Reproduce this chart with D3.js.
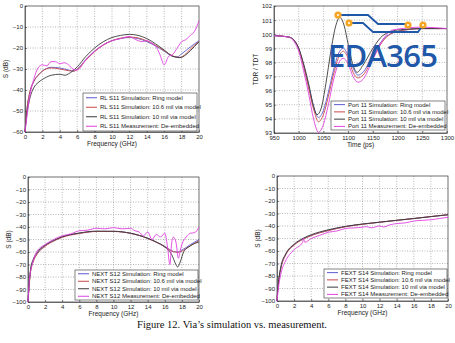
<!DOCTYPE html>
<html>
<head>
<meta charset="utf-8">
<title>Via simulation vs measurement</title>
<script src="https://cdn.jsdelivr.net/npm/d3@7"></script>
<style>
  body { margin: 0; background: #fff; }
  svg { display: block; font-family: "Liberation Sans", Arial, sans-serif; }
  .grid line { stroke: #999; stroke-dasharray: 1,1.5; stroke-width: 0.7; }
  .axis text { font-size: 6px; fill: #222; }
  .axis path, .axis line { stroke: #333; stroke-width: 0.6; }
</style>
</head>
<body>
<svg id="fig" width="455" height="343"></svg>
<script>
// ---- data ----
const freqTicks = [0, 2, 4, 6, 8, 10, 12, 14, 16, 18, 20];
const timeTicks = [950, 1000, 1050, 1100, 1150, 1200, 1250, 1300];

// S11 return loss
const s11Ring = [[0,-60],[0.2,-50],[0.5,-42],[1,-36],[1.5,-33],[2,-31],[3,-29.2],[4,-29.5],[5,-30.5],[5.6,-31],[6,-30],[7,-25.5],[8,-21.5],[9,-18.5],[10,-16.5],[11,-15.5],[12,-15],[13,-15.5],[14,-17],[15,-19],[16,-21.5],[17,-24],[17.5,-24.2],[18,-22.8],[19,-19.5],[20,-16.5]];
const s11Ring106 = [[0,-60],[0.2,-50],[0.5,-42],[1,-36],[1.5,-33],[2,-31],[3,-29.5],[4,-30],[5,-30.8],[5.6,-31],[6,-30.2],[7,-25.8],[8,-21.8],[9,-18.6],[10,-16.5],[11,-15.3],[12,-14.8],[13,-15.2],[14,-16.6],[15,-18.7],[16,-21.3],[17,-23.8],[17.7,-24.5],[18.3,-23.5],[19,-20.5],[20,-17]];
const s11Via10 = [[0,-60],[0.2,-52],[0.5,-45],[1,-39],[1.5,-36.5],[2,-35],[3,-33],[4,-32.5],[4.6,-33],[5,-32.3],[6,-29],[7,-24],[8,-20],[9,-17],[10,-15],[11,-14],[12,-13.5],[13,-14],[14,-15.5],[15,-18],[16,-21],[17,-24],[17.8,-24.6],[18.5,-23.2],[19,-21.3],[20,-17]];
const s11Meas = [[0,-60],[0.15,-55],[0.3,-50],[0.6,-42],[1,-35],[1.5,-29.5],[2,-28],[2.5,-28.5],[3,-26.5],[3.5,-26.5],[4,-27.5],[4.5,-27],[5,-28],[5.5,-30],[6,-30.5],[7,-25.5],[8,-21.5],[9,-18.5],[10,-16.5],[11,-15.5],[12,-14.5],[12.5,-15.5],[13,-16.5],[13.5,-17],[14,-16.5],[14.5,-17.5],[15,-19],[15.5,-23],[16,-28],[16.5,-24],[17,-23],[17.5,-20],[18,-17],[18.5,-16],[19,-14],[19.5,-12],[20,-7]];

// TDR
const tdrRing = [[950,99.9],[980,99.8],[990,99.6],[1000,99],[1010,97.8],[1020,96.4],[1030,94.9],[1040,94.1],[1050,94.6],[1060,95.9],[1070,97.4],[1080,98.6],[1090,99],[1100,98.5],[1110,97.6],[1120,97.1],[1130,97.3],[1150,98.5],[1170,99.6],[1200,100.2],[1250,100.4],[1300,100.4]];
const tdrRing106 = [[950,99.9],[980,99.8],[990,99.6],[1000,99],[1010,97.7],[1020,96.2],[1030,94.7],[1040,93.8],[1050,94.3],[1060,95.6],[1070,97.1],[1080,98.3],[1090,98.8],[1100,98.3],[1110,97.3],[1120,96.9],[1130,97.1],[1150,98.3],[1170,99.5],[1200,100.2],[1250,100.4],[1300,100.4]];
const tdrVia10 = [[950,99.9],[980,99.8],[990,99.6],[1000,99],[1010,97.9],[1020,96.5],[1030,94.9],[1037,94.3],[1045,94.7],[1055,96.5],[1065,98.8],[1075,100.6],[1083,101.2],[1092,100.6],[1100,99.3],[1110,97.8],[1118,97.3],[1130,97.8],[1150,99],[1170,99.9],[1200,100.3],[1250,100.4],[1300,100.4]];
const tdrMeas = [[950,99.9],[980,99.8],[990,99.5],[1000,98.8],[1010,97.4],[1020,95.8],[1030,94],[1040,93.05],[1050,93.6],[1060,95],[1070,96.7],[1080,97.9],[1090,98.3],[1100,97.9],[1110,97],[1120,96.6],[1130,96.8],[1150,98.2],[1170,99.6],[1190,100.3],[1250,100.5],[1300,100.4]];

// NEXT S12
const nextSim = [[0,-100],[0.15,-85],[0.3,-75],[0.6,-67],[1,-62],[2,-55],[3,-51],[4,-48],[6,-45],[8,-43.5],[10,-43.5],[12,-45],[14,-49],[15,-52],[16,-55.5],[17,-59.5],[17.5,-60],[18,-58.5],[19,-54],[20,-50]];
const nextSim106 = [[0,-100],[0.15,-86],[0.3,-76],[0.6,-68],[1,-62.5],[2,-55.5],[3,-51.3],[4,-48.3],[6,-45.2],[8,-43.6],[10,-43.6],[12,-45.1],[14,-49.2],[15,-52.2],[16,-55.8],[17,-59.8],[17.6,-60.2],[18.2,-58.6],[19,-55],[20,-51]];
const nextVia10 = [[0,-100],[0.15,-84],[0.3,-74],[0.6,-66],[1,-61],[2,-54.5],[3,-50.7],[4,-47.8],[6,-44.8],[8,-43.3],[10,-43.4],[12,-45],[14,-49],[15,-52],[16,-56],[16.8,-62],[17.3,-70],[17.5,-72],[17.8,-68],[18.2,-60],[19,-55],[20,-52]];
const nextMeas = [[0,-100],[0.2,-80],[0.5,-70],[1,-60],[2,-54],[3,-50],[4,-47],[5,-45.5],[6,-43],[7,-42.5],[8,-41],[9,-41.5],[10,-40.5],[11,-41.5],[12,-41],[12.5,-43],[13,-44],[13.5,-47],[14,-44],[14.5,-50],[15,-46],[15.5,-48],[16,-45],[16.3,-55],[16.6,-70],[16.8,-53],[17,-48],[17.3,-52],[17.6,-65],[17.8,-59],[18,-54],[18.5,-48],[19,-45],[19.5,-44.5],[20,-40]];

// FEXT S14
const fextSim = [[0,-100],[0.1,-90],[0.2,-84],[0.5,-72],[1,-63],[2,-55],[3,-50.5],[4,-47.5],[6,-43.5],[8,-40.5],[10,-38.5],[12,-37],[14,-35.5],[16,-34],[18,-32.5],[20,-31]];
const fextSim106 = [[0,-100],[0.1,-90],[0.2,-84],[0.5,-72.5],[1,-63.5],[2,-55.3],[3,-50.8],[4,-47.7],[6,-43.7],[8,-40.6],[10,-38.6],[12,-37],[14,-35.5],[16,-34],[18,-32.4],[20,-30.9]];
const fextVia10 = [[0,-100],[0.1,-89],[0.2,-83],[0.5,-71],[1,-62.5],[2,-54.5],[3,-50],[4,-47],[6,-43],[8,-40.3],[10,-38.4],[12,-36.9],[14,-35.4],[16,-34],[18,-32.5],[20,-31]];
const fextMeas = [[0,-100],[0.2,-88],[0.5,-77],[1,-68],[2,-59],[3,-53],[3.1,-50],[3.25,-53],[4,-50],[5,-47.5],[6,-45],[7,-44],[8,-42],[9,-41.5],[10,-41],[10.5,-40.5],[11,-41.5],[12,-40],[12.5,-40.8],[13,-39.5],[14,-38],[15,-37.5],[16,-36],[17,-35.5],[18,-35],[19,-34],[20,-33]];

const colors = ["#5a5ad0", "#c84848", "#3a3a3a", "#e040e0"];
const modelNames = ["Simulation: Ring model", "Simulation: 10.6 mil via model", "Simulation: 10 mil via model", "Measurement: De-embedded"];

const panels = [
  { box: [25, 6, 199, 132], xDomain: [0, 20], xTicks: freqTicks, yDomain: [-60, 0], yTicks: d3.range(-60, 1, 10),
    xLabel: "Frequency (GHz)", yLabel: "S (dB)", prefix: "RL S11 ", series: [s11Ring, s11Ring106, s11Via10, s11Meas],
    legend: [83, 93, 197, 131] },
  { box: [274, 6, 447, 133], xDomain: [950, 1300], xTicks: timeTicks, yDomain: [93, 102], yTicks: d3.range(93, 103, 1),
    xLabel: "Time (ps)", yLabel: "TDR / TDT", prefix: "Port 11 ", series: [tdrRing, tdrRing106, tdrVia10, tdrMeas],
    legend: [331, 101, 445, 130] },
  { box: [28, 177, 199, 302], xDomain: [0, 20], xTicks: freqTicks, yDomain: [-100, 0], yTicks: d3.range(-100, 1, 10),
    xLabel: "Frequency (GHz)", yLabel: "S (dB)", prefix: "NEXT S12 ", series: [nextSim, nextSim106, nextVia10, nextMeas],
    legend: [75, 270, 198, 300] },
  { box: [277, 176, 448, 301], xDomain: [0, 20], xTicks: freqTicks, yDomain: [-100, 0], yTicks: d3.range(-100, 1, 10),
    xLabel: "Frequency (GHz)", yLabel: "S (dB)", prefix: "FEXT S14 ", series: [fextSim, fextSim106, fextVia10, fextMeas],
    legend: [324, 269, 447, 298] }
];

const svg = d3.select("#fig");

panels.forEach(function(p) {
  const [x0, y0, x1, y1] = p.box;
  const x = d3.scaleLinear().domain(p.xDomain).range([x0, x1]);
  const y = d3.scaleLinear().domain(p.yDomain).range([y1, y0]);
  const g = svg.append("g");

  // dotted grid
  const grid = g.append("g").attr("class", "grid");
  grid.selectAll(".vx").data(p.xTicks.slice(1, -1)).enter().append("line")
    .attr("x1", d => x(d)).attr("x2", d => x(d)).attr("y1", y0).attr("y2", y1);
  grid.selectAll(".hy").data(p.yTicks.slice(1, -1)).enter().append("line")
    .attr("x1", x0).attr("x2", x1).attr("y1", d => y(d)).attr("y2", d => y(d));

  // axes
  g.append("g").attr("class", "axis").attr("transform", `translate(0,${y1})`)
    .call(d3.axisBottom(x).tickValues(p.xTicks).tickFormat(d3.format("d")).tickSize(-2).tickPadding(3).tickSizeOuter(0));
  g.append("g").attr("class", "axis").attr("transform", `translate(${x0},0)`)
    .call(d3.axisLeft(y).tickValues(p.yTicks).tickFormat(d3.format("d")).tickSize(-2).tickPadding(2).tickSizeOuter(0));
  g.append("rect").attr("x", x0).attr("y", y0).attr("width", x1 - x0).attr("height", y1 - y0)
    .attr("fill", "none").attr("stroke", "#333").attr("stroke-width", 0.7);

  // axis titles
  g.append("text").attr("x", (x0 + x1) / 2).attr("y", y1 + 14).attr("text-anchor", "middle")
    .attr("font-size", 6.5).attr("fill", "#222").text(p.xLabel);
  const yl = x0 === 274 ? x0 - 16 : x0 - 17;
  g.append("text").attr("transform", `translate(${yl},${(y0 + y1) / 2}) rotate(-90)`)
    .attr("text-anchor", "middle").attr("font-size", 6.5).attr("fill", "#222").text(p.yLabel);

  // curves
  const line = d3.line().x(d => x(d[0])).y(d => y(d[1])).curve(d3.curveMonotoneX);
  g.append("g").selectAll("path").data(p.series).enter().append("path")
    .attr("d", line).attr("fill", "none")
    .attr("stroke", (d, i) => colors[i]).attr("stroke-width", 0.9);

  // legend
  const [lx0, ly0, lx1, ly1] = p.legend;
  const lg = g.append("g");
  lg.append("rect").attr("x", lx0).attr("y", ly0).attr("width", lx1 - lx0).attr("height", ly1 - ly0)
    .attr("fill", "#fff").attr("stroke", "#333").attr("stroke-width", 0.6);
  const rowH = (ly1 - ly0) / 4;
  modelNames.forEach(function(name, i) {
    const cy = ly0 + rowH * (i + 0.5);
    lg.append("line").attr("x1", lx0 + 3).attr("x2", lx0 + 14).attr("y1", cy).attr("y2", cy)
      .attr("stroke", colors[i]).attr("stroke-width", 1);
    lg.append("text").attr("x", lx0 + 17).attr("y", cy + 2).attr("font-size", 6).attr("fill", "#222")
      .text(p.prefix + name);
  });
});

// watermark over TDR panel
const wm = svg.append("g");
const wmBlue = "#1f58a8";
wm.append("polyline").attr("points", "338,15 368,15 378,24 408,24")
  .attr("fill", "none").attr("stroke", wmBlue).attr("stroke-width", 1.8);
wm.append("polyline").attr("points", "349,23 363,23 373,32 418,32 423,25")
  .attr("fill", "none").attr("stroke", wmBlue).attr("stroke-width", 1.8);
[[338, 15], [349, 23], [408, 25], [423, 25]].forEach(function(c) {
  wm.append("circle").attr("cx", c[0]).attr("cy", c[1]).attr("r", 3.6).attr("fill", "#f5a623");
  wm.append("circle").attr("cx", c[0]).attr("cy", c[1]).attr("r", 1).attr("fill", "#fff");
});
wm.append("text").attr("x", 328).attr("y", 67).attr("font-size", 31).attr("font-weight", 600).attr("fill", wmBlue)
  .attr("font-family", "'Open Sans', 'Liberation Sans', sans-serif").attr("textLength", 110)
  .text("EDA365");

// caption
svg.append("text").attr("x", 232).attr("y", 328).attr("text-anchor", "middle")
  .attr("font-family", "'Liberation Serif', 'Times New Roman', serif").attr("font-size", 10.5).attr("fill", "#111")
  .text("Figure 12. Via\u2019s simulation vs. measurement.");
</script>
</body>
</html>
